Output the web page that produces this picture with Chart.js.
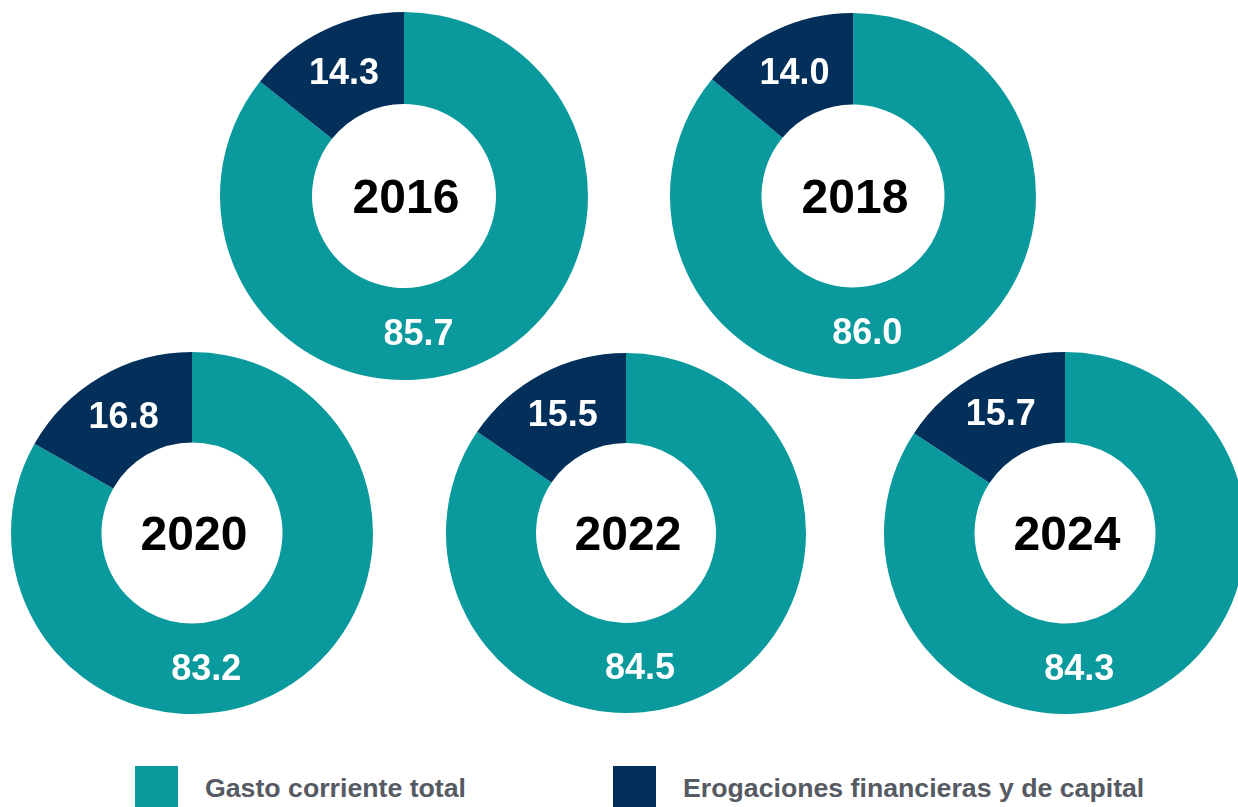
<!DOCTYPE html>
<html>
<head>
<meta charset="utf-8">
<script src="https://cdn.jsdelivr.net/npm/chart.js@4.4.1/dist/chart.umd.min.js"></script>
<style>
  html, body { margin: 0; padding: 0; background: #fff; }
  body { width: 1238px; height: 807px; position: relative; overflow: hidden; font-family: "Liberation Sans", Arial, sans-serif; }
  .donut { position: absolute; }
  .legend { position: absolute; top: 766px; display: flex; align-items: flex-start; }
  .swatch { width: 43px; height: 42px; }
  .legend span { margin-left: 27px; margin-top: 7px; font-size: 26.7px; font-weight: bold; color: #555a63; white-space: nowrap; }
</style>
</head>
<body>
<div class="legend" style="left:135px"><div class="swatch" style="background:#0a999c"></div><span>Gasto corriente total</span></div>
<div class="legend" style="left:613px"><div class="swatch" style="background:#03305a"></div><span>Erogaciones financieras y de capital</span></div>
<script>
// data
const years = ['2016', '2018', '2020', '2022', '2024'];
const gastoCorriente = [85.7, 86.0, 83.2, 84.5, 84.3];
const erogaciones = [14.3, 14.0, 16.8, 15.5, 15.7];
const seriesNames = ['Gasto corriente total', 'Erogaciones financieras y de capital'];
const colors = ['#0a999c', '#03305a'];

// where each donut sits on the page: [left, top, size]
const boxes = [
  [220, 12, 368],
  [670, 13, 366],
  [11, 352, 362],
  [446, 353, 360],
  [884, 352, 362]
];

// the teal value label sits near the bottom of the ring, not at the arc middle
const tealLabelAngle = 174;

const ringLabels = {
  id: 'ringLabels',
  afterDatasetsDraw(chart, args, opts) {
    const ctx = chart.ctx;
    const meta = chart.getDatasetMeta(0);
    const ds = chart.data.datasets[0];
    ctx.save();
    meta.data.forEach((arc, i) => {
      const p = arc.getProps(['x', 'y', 'startAngle', 'endAngle', 'innerRadius', 'outerRadius'], true);
      let ang = (p.startAngle + p.endAngle) / 2;
      if (i === 0) ang = (tealLabelAngle - 90) * Math.PI / 180;
      const r = (p.innerRadius + p.outerRadius) / 2;
      ctx.fillStyle = '#ffffff';
      ctx.font = 'bold 36px "Liberation Sans", Arial, sans-serif';
      ctx.textAlign = 'center';
      ctx.textBaseline = 'middle';
      ctx.fillText(ds.data[i].toFixed(1), p.x + Math.cos(ang) * r, p.y + Math.sin(ang) * r + 2);
    });
    const a = meta.data[0];
    ctx.fillStyle = '#000000';
    ctx.font = 'bold 48px "Liberation Sans", Arial, sans-serif';
    ctx.fillText(opts.year, a.x + 2, a.y + 4);
    ctx.restore();
  }
};

years.forEach((year, i) => {
  const [left, top, size] = boxes[i];
  const div = document.createElement('div');
  div.className = 'donut';
  div.style.left = left + 'px';
  div.style.top = top + 'px';
  div.style.width = size + 'px';
  div.style.height = size + 'px';
  const canvas = document.createElement('canvas');
  canvas.width = size;
  canvas.height = size;
  div.appendChild(canvas);
  document.body.appendChild(div);

  new Chart(canvas.getContext('2d'), {
    type: 'doughnut',
    data: {
      labels: seriesNames,
      datasets: [{
        data: [gastoCorriente[i], erogaciones[i]],
        backgroundColor: colors,
        borderWidth: 0
      }]
    },
    options: {
      responsive: false,
      animation: false,
      cutout: '50%',
      layout: { padding: 0 },
      plugins: {
        legend: { display: false },
        tooltip: { enabled: false },
        ringLabels: { year: year }
      }
    },
    plugins: [ringLabels]
  });
});
</script>
</body>
</html>
